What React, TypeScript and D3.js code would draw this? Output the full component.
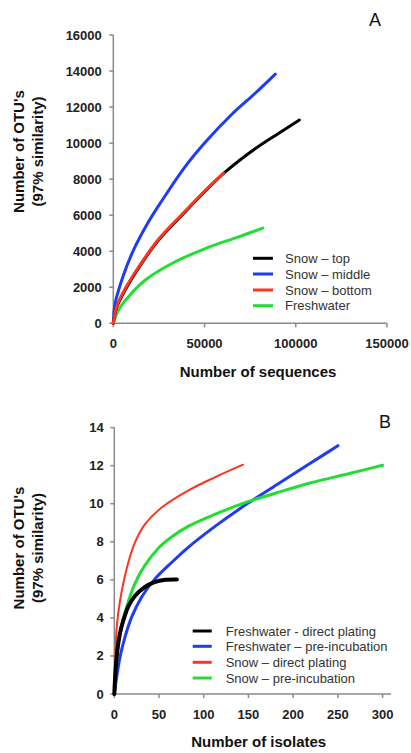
import React from "react";
import * as d3 from "d3";

type Pt = [number, number];

// Panel A: OTUs vs number of sequences
const seqTop: Pt[] = [[0, 0], [1900, 900], [6400, 1830], [14700, 3200], [24700, 4610], [37600, 6000], [50000, 7300], [61400, 8400], [77900, 9700], [90700, 10550], [102000, 11280]];
const seqMiddle: Pt[] = [[0, 0], [1000, 1100], [5500, 2650], [11000, 4050], [19000, 5580], [26600, 6800], [39400, 8700], [50400, 10050], [65000, 11600], [77900, 12780], [88800, 13830]];
const seqBottom: Pt[] = [[0, 0], [1900, 950], [6400, 1900], [14700, 3250], [24700, 4650], [37600, 6040], [50000, 7330], [60400, 8330]];
const seqFresh: Pt[] = [[0, 0], [2750, 720], [8200, 1460], [17400, 2390], [32100, 3320], [50400, 4150], [68700, 4800], [81900, 5280]];
const seqXTicks = [0, 50000, 100000, 150000];
const seqYTicks = [0, 2000, 4000, 6000, 8000, 10000, 12000, 14000, 16000];
const seqLabels = ["Snow \u2013 top", "Snow \u2013 middle", "Snow \u2013 bottom", "Freshwater"];

// Panel B: OTUs vs number of isolates
const isoFreshDirect: Pt[] = [[0, 0], [2.7, 2.0], [6.4, 3.2], [10, 3.85], [15.7, 4.6], [23, 5.15], [34, 5.62], [45, 5.88], [57, 6.0], [70, 6.02]];
const isoFreshPre: Pt[] = [[0, 0], [2.7, 0.9], [6.4, 1.95], [12, 3.0], [19.5, 4.05], [30.6, 5.1], [45.5, 6.05], [65, 6.95], [83, 7.72], [113, 8.82], [148, 9.98], [189, 11.22], [220, 12.15], [250, 13.05]];
const isoSnowDirect: Pt[] = [[0, 0], [2.7, 3.5], [6.4, 4.9], [13.9, 6.6], [23, 7.95], [34, 8.9], [53, 9.8], [83, 10.7], [113, 11.4], [144, 12.05]];
const isoSnowPre: Pt[] = [[0, 0], [2.7, 1.8], [6.4, 3.2], [14, 4.6], [23, 5.8], [34, 6.75], [49, 7.65], [64, 8.25], [83, 8.82], [113, 9.45], [147, 10.07], [180, 10.55], [220, 11.1], [264, 11.6], [300, 12.02]];
const isoXTicks = [0, 50, 100, 150, 200, 250, 300];
const isoYTicks = [0, 2, 4, 6, 8, 10, 12, 14];
const isoLabels = ["Freshwater - direct plating", "Freshwater \u2013 pre-incubation", "Snow \u2013 direct plating", "Snow \u2013 pre-incubation"];

const FONT = "'Liberation Sans', Arial, Helvetica, sans-serif";
const BLACK = "#000000";
const BLUE = "#1f3cf5";
const RED = "#ff3320";
const GREEN = "#22dd33";
const AXIS = "#8a8a8a";

interface Series {
  data: Pt[];
  color: string;
  width: number;
}

interface PanelProps {
  xDomain: [number, number];
  xRange: [number, number];
  yDomain: [number, number];
  yRange: [number, number];
  axisEnd: number;
  xTicks: number[];
  yTicks: number[];
  series: Series[]; // in drawing order
  legend: { label: string; color: string }[];
  legendX: number;
  legendY: number[];
  legendTextX: number;
  legendLineLen: number;
  letter: string;
  letterX: number;
  letterY: number;
  xTitle: string;
  xTitleX: number;
  xTitleY: number;
  yTitleY: number;
  yLabelGap: number;
}

function Panel(p: PanelProps) {
  const x = d3.scaleLinear().domain(p.xDomain).range(p.xRange);
  const y = d3.scaleLinear().domain(p.yDomain).range(p.yRange);
  const line = d3
    .line<Pt>()
    .x((d) => x(d[0]))
    .y((d) => y(d[1]))
    .curve(d3.curveCatmullRom.alpha(0.5));
  const x0 = x(p.xDomain[0]);
  const y0 = y(p.yDomain[0]);
  const yTop = y(p.yDomain[1]);
  return (
    <g>
      {/* axes */}
      <line x1={x0} x2={x0} y1={yTop} y2={y0} stroke={AXIS} strokeWidth={1.5} />
      <line x1={x0} x2={p.axisEnd} y1={y0} y2={y0} stroke={AXIS} strokeWidth={1.5} />
      {p.yTicks.map((t) => (
        <g key={"y" + t}>
          <line x1={x0 - 4} x2={x0} y1={y(t)} y2={y(t)} stroke={AXIS} strokeWidth={1.5} />
          <text
            x={x0 - p.yLabelGap}
            y={y(t)}
            textAnchor="end"
            dominantBaseline="central"
            fontFamily={FONT}
            fontWeight="bold"
            fontSize={13}
            fill="#222"
          >
            {t}
          </text>
        </g>
      ))}
      {p.xTicks.map((t) => (
        <g key={"x" + t}>
          <line x1={x(t)} x2={x(t)} y1={y0} y2={y0 + 4} stroke={AXIS} strokeWidth={1.5} />
          <text
            x={x(t)}
            y={y0 + 20}
            textAnchor="middle"
            dominantBaseline="central"
            fontFamily={FONT}
            fontWeight="bold"
            fontSize={13}
            fill="#222"
          >
            {t}
          </text>
        </g>
      ))}
      {/* curves */}
      {p.series.map((s, i) => (
        <path
          key={i}
          d={line(s.data) || ""}
          fill="none"
          stroke={s.color}
          strokeWidth={s.width}
          strokeLinecap="round"
          strokeLinejoin="round"
        />
      ))}
      {/* legend */}
      {p.legend.map((l, i) => (
        <g key={"l" + i}>
          <line
            x1={p.legendX}
            x2={p.legendX + p.legendLineLen}
            y1={p.legendY[i]}
            y2={p.legendY[i]}
            stroke={l.color}
            strokeWidth={3}
          />
          <text
            x={p.legendTextX}
            y={p.legendY[i]}
            dominantBaseline="central"
            fontFamily={FONT}
            fontSize={13}
            fill="#333"
          >
            {l.label}
          </text>
        </g>
      ))}
      {/* titles */}
      <text
        x={p.xTitleX}
        y={p.xTitleY}
        textAnchor="middle"
        dominantBaseline="central"
        fontFamily={FONT}
        fontWeight="bold"
        fontSize={15}
        fill="#111"
      >
        {p.xTitle}
      </text>
      <text
        transform={`translate(18,${p.yTitleY}) rotate(-90)`}
        textAnchor="middle"
        dominantBaseline="central"
        fontFamily={FONT}
        fontWeight="bold"
        fontSize={15}
        fill="#111"
      >
        Number of OTU's
      </text>
      <text
        transform={`translate(37.5,${p.yTitleY}) rotate(-90)`}
        textAnchor="middle"
        dominantBaseline="central"
        fontFamily={FONT}
        fontWeight="bold"
        fontSize={15}
        fill="#111"
      >
        (97% similarity)
      </text>
      <text
        x={p.letterX}
        y={p.letterY}
        textAnchor="middle"
        dominantBaseline="central"
        fontFamily={FONT}
        fontSize={18}
        fill="#111"
      >
        {p.letter}
      </text>
    </g>
  );
}

export default function App() {
  const legendA = [
    { label: seqLabels[0], color: BLACK },
    { label: seqLabels[1], color: BLUE },
    { label: seqLabels[2], color: RED },
    { label: seqLabels[3], color: GREEN },
  ];
  const legendB = [
    { label: isoLabels[0], color: BLACK },
    { label: isoLabels[1], color: BLUE },
    { label: isoLabels[2], color: RED },
    { label: isoLabels[3], color: GREEN },
  ];
  return (
    <svg
      width={411}
      height={753}
      style={{ position: "absolute", left: 0, top: 0, background: "#fff" }}
    >
      <rect width={411} height={753} fill="#fff" />
      <Panel
        xDomain={[0, 150000]}
        xRange={[113.3, 387]}
        yDomain={[0, 16000]}
        yRange={[323.3, 35]}
        axisEnd={387}
        xTicks={seqXTicks}
        yTicks={seqYTicks}
        series={[
          { data: seqMiddle, color: BLUE, width: 3 },
          { data: seqFresh, color: GREEN, width: 3 },
          { data: seqTop, color: BLACK, width: 3 },
          { data: seqBottom, color: RED, width: 3 },
        ]}
        legend={legendA}
        legendX={253}
        legendLineLen={20}
        legendTextX={285}
        legendY={[258.3, 274, 290, 305.7]}
        letter="A"
        letterX={375}
        letterY={20}
        xTitle="Number of sequences"
        xTitleX={258}
        xTitleY={371.7}
        yTitleY={151.5}
        yLabelGap={11.5}
      />
      <Panel
        xDomain={[0, 300]}
        xRange={[114.3, 382.6]}
        yDomain={[0, 14]}
        yRange={[694, 427.6]}
        axisEnd={391}
        xTicks={isoXTicks}
        yTicks={isoYTicks}
        series={[
          { data: isoFreshPre, color: BLUE, width: 3 },
          { data: isoSnowPre, color: GREEN, width: 3 },
          { data: isoSnowDirect, color: RED, width: 2 },
          { data: isoFreshDirect, color: BLACK, width: 4 },
        ]}
        legend={legendB}
        legendX={192.7}
        legendLineLen={19}
        legendTextX={225.7}
        legendY={[631, 646.3, 662.3, 678]}
        letter="B"
        letterX={385}
        letterY={421.7}
        xTitle="Number of isolates"
        xTitleX={258.7}
        xTitleY={741.7}
        yTitleY={548}
        yLabelGap={10.5}
      />
    </svg>
  );
}
